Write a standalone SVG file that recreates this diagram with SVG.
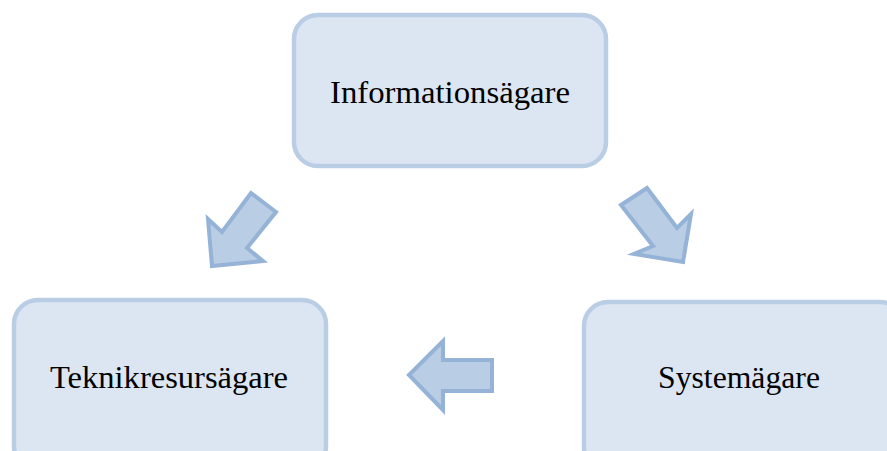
<svg xmlns="http://www.w3.org/2000/svg" width="887" height="451" viewBox="0 0 887 451">
<style>
.box{fill:#dce6f2;stroke:#b9cde5;stroke-width:4.5}
.lbl{font-family:"Liberation Serif","Times New Roman",serif;font-size:31px;fill:#000;text-anchor:middle}
.arr{fill:#b9cde5;stroke:#95b3d7;stroke-width:4;stroke-linejoin:miter}
</style>
<rect width="887" height="451" fill="#fff"/>
<g id="informationsagare">
<rect class="box" x="294" y="15" width="312" height="151" rx="24"/>
<text class="lbl" x="450" y="103" textLength="240" lengthAdjust="spacingAndGlyphs">Informationsägare</text>
</g>
<g id="teknikresursagare">
<rect class="box" x="14" y="300" width="312" height="170" rx="24"/>
<text class="lbl" x="169" y="388" textLength="238" lengthAdjust="spacingAndGlyphs">Teknikresursägare</text>
</g>
<g id="systemagare">
<rect class="box" x="584" y="302" width="320" height="170" rx="24"/>
<text class="lbl" x="739" y="388" textLength="162" lengthAdjust="spacingAndGlyphs">Systemägare</text>
</g>
<g id="connectors">
<polygon class="arr" points="212,266 208,219 222,232 251,193 276,212 247,248 263,261"/>
<polygon class="arr" points="621,205 647,188 677,228 691,214 683,262 634,254 653,246"/>
<polygon class="arr" points="409,375 443,341 443,360 492,360 492,391 443,391 443,410"/>
</g>
</svg>
